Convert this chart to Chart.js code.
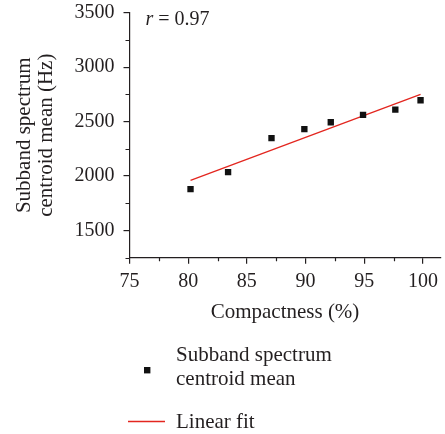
<!DOCTYPE html>
<html>
<head>
<meta charset="utf-8">
<script src="https://cdn.jsdelivr.net/npm/chart.js@4.4.1/dist/chart.umd.min.js"></script>
<style>
  html, body { margin: 0; padding: 0; background: #fff; }
</style>
</head>
<body>
<canvas id="chart" width="445" height="434"></canvas>
<script>
// measured points
const compactness = [80.2, 83.4, 87.1, 89.9, 92.15, 94.9, 97.65, 99.8];
const centroidMean = [1880, 2036, 2348, 2431, 2494, 2562, 2610, 2696];

// linear fit end points
const fitX = [80.2, 99.8];
const fitY = [1960, 2750];

const xTicks = [75, 80, 85, 90, 95, 100];
const xMinorTicks = [77.5, 82.5, 87.5, 92.5, 97.5];
const yTicks = [1500, 2000, 2500, 3000, 3500];
const yMinorTicks = [1250, 1750, 2250, 2750, 3250];

const rValue = '0.97';
const pointLabel = ['Subband spectrum', 'centroid mean'];
const fitLabel = 'Linear fit';

const ink = '#231f20';
const red = '#e3261f';
const serif = "'Liberation Serif', 'DejaVu Serif', serif";

const minorTicks = {
    id: 'minorTicks',
    afterDraw(chart) {
        const ctx = chart.ctx;
        const x = chart.scales.x, y = chart.scales.y;
        ctx.save();
        ctx.strokeStyle = ink;
        ctx.lineWidth = 1.2;
        ctx.beginPath();
        xMinorTicks.forEach(v => {
            const px = Math.round(x.getPixelForValue(v)) + 0.5;
            ctx.moveTo(px, x.top);
            ctx.lineTo(px, x.top + 3.5);
        });
        yMinorTicks.forEach(v => {
            const py = Math.round(y.getPixelForValue(v)) + 0.5;
            ctx.moveTo(y.right - 4, py);
            ctx.lineTo(y.right, py);
        });
        ctx.stroke();
        ctx.restore();
    }
};

// r value in the top left corner and the legend under the axis
const notes = {
    id: 'notes',
    afterDraw(chart) {
        const ctx = chart.ctx;
        const area = chart.chartArea;
        ctx.save();
        ctx.fillStyle = ink;
        ctx.textBaseline = 'alphabetic';
        ctx.font = 'italic 20px ' + serif;
        const rx = area.left + 16, ry = 25;
        ctx.fillText('r', rx, ry);
        const rw = ctx.measureText('r').width;
        ctx.font = '20px ' + serif;
        ctx.fillText(' = ' + rValue, rx + rw, ry);

        const pts = chart.data.datasets[0];
        const fit = chart.data.datasets[1];
        ctx.font = '21px ' + serif;
        // marker
        ctx.fillStyle = pts.backgroundColor;
        ctx.fillRect(144, 367, 6.4, 6.4);
        ctx.fillStyle = ink;
        pts.label.forEach((line, i) => ctx.fillText(line, 176, 361 + i * 24));
        // fit line sample
        ctx.strokeStyle = fit.borderColor;
        ctx.lineWidth = fit.borderWidth;
        ctx.beginPath();
        ctx.moveTo(128, 421.5);
        ctx.lineTo(165, 421.5);
        ctx.stroke();
        ctx.fillText(fit.label, 176, 427.5);
        ctx.restore();
    }
};

const tickFont = { family: serif, size: 20 };

new Chart(document.getElementById('chart').getContext('2d'), {
    type: 'scatter',
    data: {
        datasets: [
            {
                label: pointLabel,
                data: compactness.map((c, i) => ({ x: c, y: centroidMean[i] })),
                pointStyle: 'rect',
                pointRadius: 4.5,
                backgroundColor: '#111',
                borderColor: '#111',
                borderWidth: 0,
                showLine: false
            },
            {
                label: fitLabel,
                data: fitX.map((c, i) => ({ x: c, y: fitY[i] })),
                showLine: true,
                pointRadius: 0,
                borderColor: red,
                borderWidth: 1.3,
                fill: false
            }
        ]
    },
    options: {
        responsive: false,
        animation: false,
        layout: { padding: { left: 0, right: 3, top: 12.7, bottom: 104 } },
        plugins: {
            legend: { display: false },
            tooltip: { enabled: false }
        },
        scales: {
            x: {
                type: 'linear',
                min: 75,
                max: 101.5,
                afterBuildTicks: s => { s.ticks = xTicks.map(v => ({ value: v })); },
                afterFit: s => { s.height = 72.3; s.paddingLeft = 0; s.paddingRight = 0; },
                ticks: { color: ink, font: tickFont, padding: 6, maxRotation: 0, callback: v => v },
                grid: { drawOnChartArea: false, drawTicks: true, tickLength: 6, color: ink, lineWidth: 1.2 },
                border: { display: true, color: ink, width: 1.2 },
                title: {
                    display: true,
                    text: 'Compactness (%)',
                    color: ink,
                    font: { family: serif, size: 21, lineHeight: 1.1 },
                    padding: { top: 0, bottom: 6 }
                }
            },
            y: {
                type: 'linear',
                min: 1250,
                max: 3500,
                afterBuildTicks: s => { s.ticks = yTicks.map(v => ({ value: v })); },
                afterFit: s => { s.width = 129.5; s.paddingTop = 0; s.paddingBottom = 0; },
                ticks: { color: ink, font: tickFont, padding: 9, callback: v => v },
                grid: { drawOnChartArea: false, drawTicks: true, tickLength: 6, color: ink, lineWidth: 1.2 },
                border: { display: true, color: ink, width: 1.2 },
                title: {
                    display: true,
                    text: ['Subband spectrum', 'centroid mean (Hz)'],
                    color: ink,
                    font: { family: serif, size: 21, lineHeight: 1.05 },
                    padding: { top: 13, bottom: 0 }
                }
            }
        }
    },
    plugins: [minorTicks, notes]
});
</script>
</body>
</html>
